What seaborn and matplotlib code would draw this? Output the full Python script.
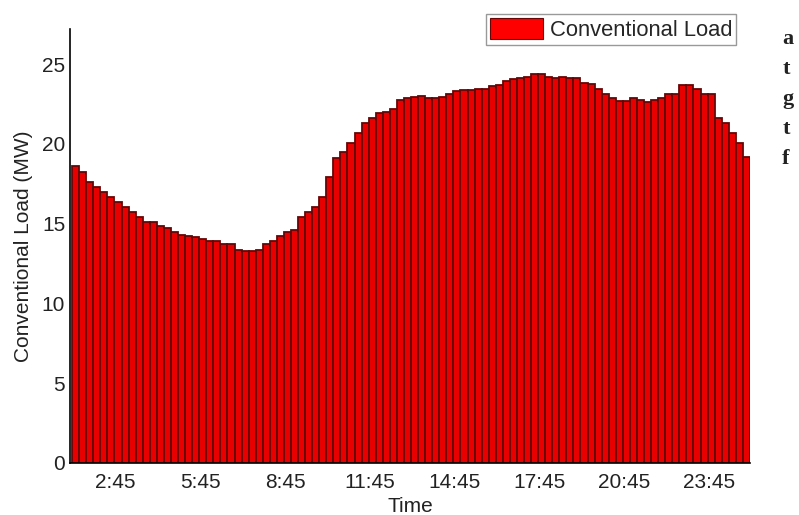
import numpy as np
import pandas as pd
import matplotlib
matplotlib.use("Agg")
import matplotlib.pyplot as plt
import seaborn as sns

# 96 quarter-hour slots of conventional load (MW)
LOAD_MW = [
    18.6, 18.25, 17.6, 17.3, 17.0, 16.7, 16.35, 16.05, 15.75, 15.4, 15.1, 15.1,
    14.85, 14.7, 14.5, 14.3, 14.2, 14.15, 14.05, 13.9, 13.9, 13.7, 13.7, 13.35,
    13.3, 13.3, 13.35, 13.7, 13.9, 14.2, 14.5, 14.6, 15.4, 15.75, 16.05, 16.7,
    17.95, 19.1, 19.5, 20.05, 20.7, 21.3, 21.65, 21.95, 22.0, 22.2, 22.75, 22.85,
    22.95, 23.0, 22.85, 22.85, 22.95, 23.15, 23.3, 23.35, 23.35, 23.45, 23.45, 23.6,
    23.7, 23.95, 24.05, 24.1, 24.2, 24.35, 24.35, 24.2, 24.1, 24.2, 24.15, 24.1,
    23.8, 23.75, 23.45, 23.15, 22.85, 22.7, 22.7, 22.85, 22.75, 22.65, 22.75, 22.9,
    23.15, 23.15, 23.7, 23.7, 23.45, 23.15, 23.15, 21.65, 21.3, 20.7, 20.05, 19.2,
]
SLOTS = list(range(len(LOAD_MW)))
XTICK_LABELS = ["2:45", "5:45", "8:45", "11:45", "14:45", "17:45", "20:45", "23:45"]
YTICKS = [0, 5, 10, 15, 20, 25]
SIDE_LETTERS = ["a", "t", "g", "t", "f"]

sns.set_theme(style="white")
plt.rcParams["font.family"] = ["Liberation Sans", "DejaVu Sans"]

df = pd.DataFrame({"slot": SLOTS, "load": LOAD_MW})

fig = plt.figure(figsize=(7.99, 5.15), dpi=100)
ax = fig.add_axes([0.0876, 0.101, 0.851, 0.8427])

sns.barplot(
    data=df,
    x="slot",
    y="load",
    color="#e80000",
    saturation=1,
    width=1.0,
    edgecolor="#660606",
    linewidth=1.3,
    label="Conventional Load",
    ax=ax,
)

ax.set_xlim(-0.8, 95.5)
ax.set_ylim(0, 27.2)
ax.set_xticks(np.arange(len(XTICK_LABELS)) * 12 + 5.65)
ax.set_xticklabels(XTICK_LABELS)
ax.set_yticks(YTICKS)
ax.tick_params(axis="both", labelsize=15, labelcolor="#222222",
               direction="in", length=3, color="black")
ax.tick_params(axis="x", pad=7)
ax.set_xlabel("Time", fontsize=15, labelpad=4, color="#222222")
ax.set_ylabel("Conventional Load (MW)", fontsize=15, labelpad=6, color="#222222")

for side in ["top", "right"]:
    ax.spines[side].set_visible(False)
for side in ["left", "bottom"]:
    ax.spines[side].set_color("black")
    ax.spines[side].set_linewidth(1.2)

leg = ax.legend(
    loc="upper right",
    bbox_to_anchor=(0.98, 1.034),
    borderaxespad=0,
    fontsize=15.8,
    handlelength=2.45,
    handleheight=1.05,
    handletextpad=0.3,
    borderpad=0.18,
    fancybox=False,
    framealpha=1,
)
leg.get_frame().set_edgecolor("#999999")
leg.get_frame().set_linewidth(1.0)
for h in leg.legend_handles:
    h.set_facecolor("#ff0000")
    h.set_edgecolor("#660606")
    h.set_linewidth(0.8)

# fragments of the surrounding page text on the right edge
for i, letter in enumerate(SIDE_LETTERS):
    fig.text(0.979, 0.925 - i * 0.0585, letter, fontsize=16, fontweight="bold",
             family=["Liberation Serif", "DejaVu Serif"],
             ha="left", va="center", color="#222222")

fig.savefig("out.png", dpi=100)
